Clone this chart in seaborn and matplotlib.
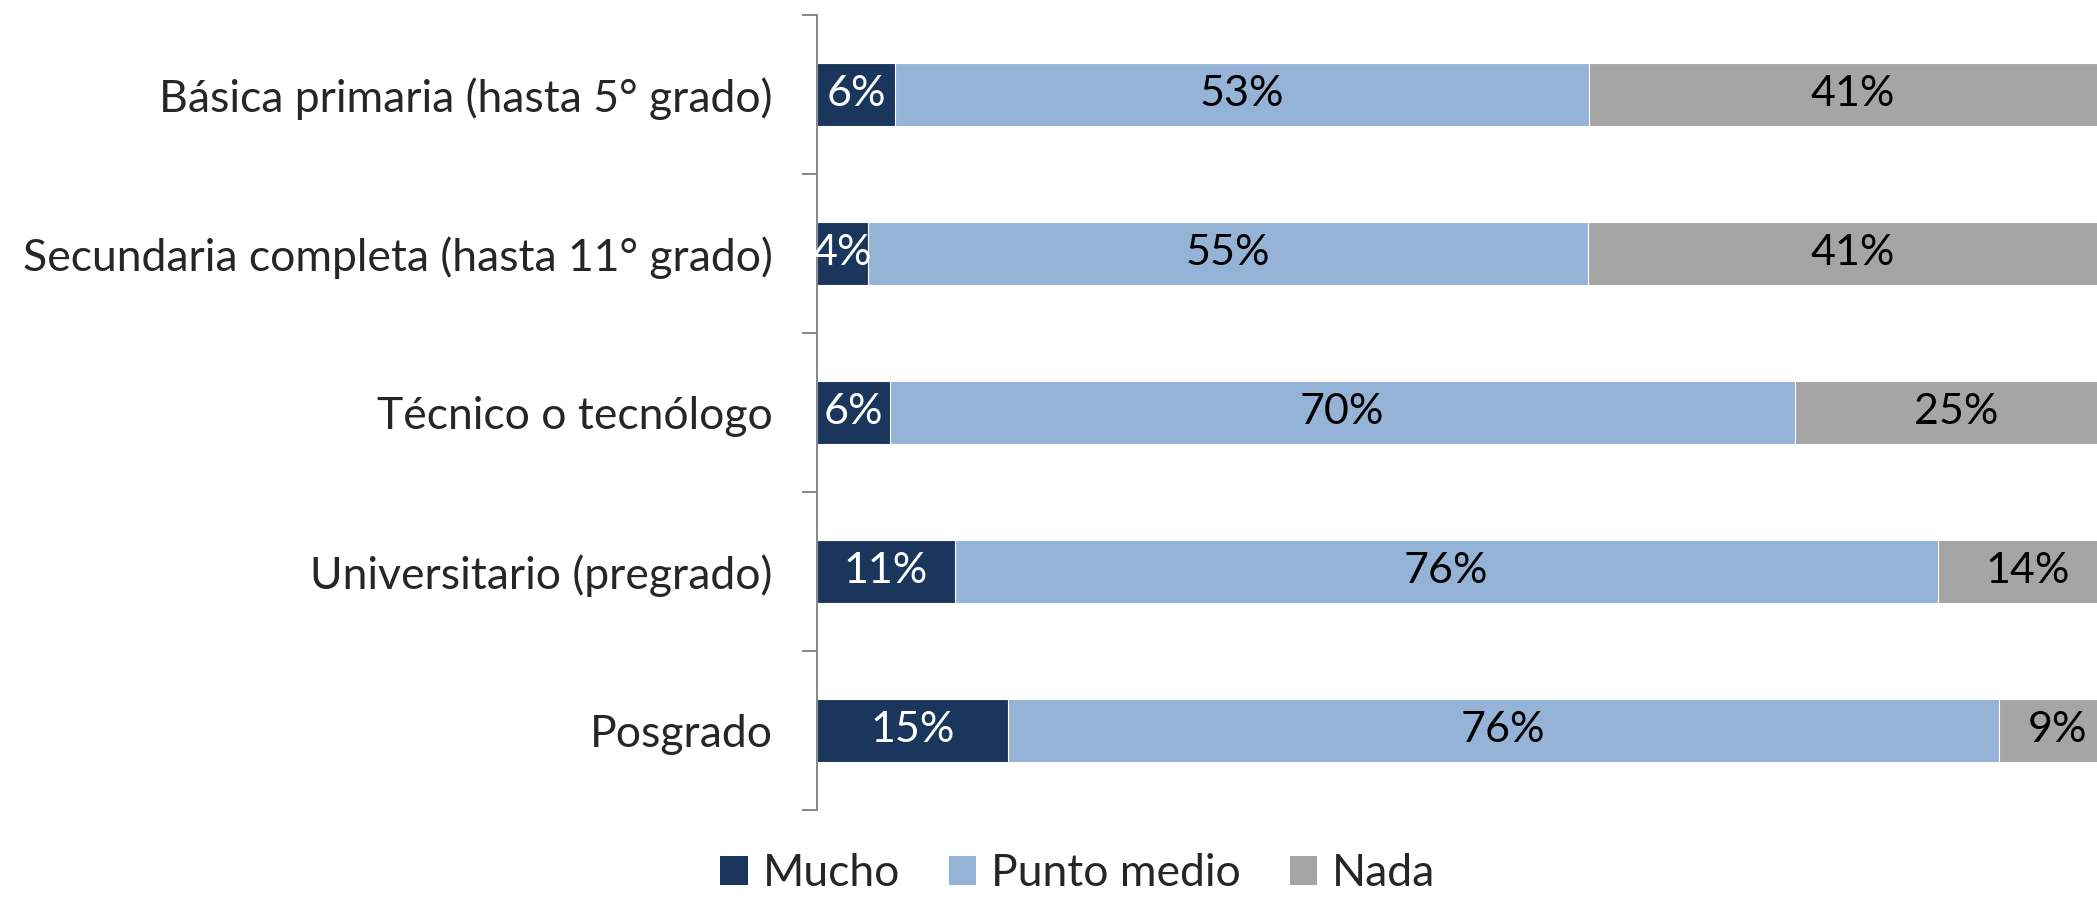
import matplotlib
matplotlib.use("Agg")
import matplotlib.pyplot as plt
from matplotlib.patches import Patch
import seaborn as sns
import numpy as np
import pandas as pd

categories = [
    "Básica primaria (hasta 5° grado)",
    "Secundaria completa (hasta 11° grado)",
    "Técnico o tecnólogo",
    "Universitario (pregrado)",
    "Posgrado",
]
mucho = [6.0, 3.9, 5.6, 10.6, 14.7]
punto_medio = [53.4, 55.4, 69.6, 75.6, 76.2]
nada = [40.6, 40.7, 24.8, 13.8, 9.1]
series_names = ["Mucho", "Punto medio", "Nada"]
colors = ["#1A365D", "#95B3D7", "#A5A5A5"]
label_colors = ["white", "black", "black"]

sns.set_theme(style="white")
plt.rcParams["font.family"] = ["Lato", "DejaVu Sans"]

df = pd.DataFrame({"cat": categories, "Mucho": mucho,
                   "Punto medio": punto_medio, "Nada": nada})
df["c1"] = df["Mucho"]
df["c2"] = df["Mucho"] + df["Punto medio"]
df["c3"] = df["c2"] + df["Nada"]

fig = plt.figure(figsize=(20.97, 8.97), dpi=100)
ax = fig.add_axes([0.3896, 0.097, 0.6199, 0.8863])

for col, color in zip(["c3", "c2", "c1"], colors[::-1]):
    sns.barplot(data=df, y="cat", x=col, orient="h", color=color,
                width=0.4, ax=ax, edgecolor="white", linewidth=0.8,
                saturation=1, errorbar=None)

ax.set_xlim(0, 100)
ax.set_ylim(4.5, -0.5)
ax.set_xlabel("")
ax.set_ylabel("")
ax.set_xticks([])

# value labels
lefts = np.zeros(len(categories))
for vals, lc in zip([mucho, punto_medio, nada], label_colors):
    vals = np.array(vals)
    centers = lefts + vals / 2
    for i, (c, v) in enumerate(zip(centers, vals)):
        ax.text(c, i, f"{int(round(v))}%", ha="center", va="center",
                color=lc, fontsize=31)
    lefts = lefts + vals

for s in ["top", "right", "bottom"]:
    ax.spines[s].set_visible(False)
ax.spines["left"].set_color("#868686")
ax.spines["left"].set_linewidth(1.4)

ax.set_yticks(range(len(categories)))
ax.set_yticklabels(categories, fontsize=32)
ax.tick_params(axis="y", which="major", length=0, pad=32)
ax.set_yticks(np.arange(-0.5, len(categories), 1.0), minor=True)
ax.tick_params(axis="y", which="minor", length=11, width=1.4,
               color="#868686", left=True)

handles = [Patch(facecolor=c, edgecolor="none") for c in colors]
fig.legend(handles, series_names, loc="center", bbox_to_anchor=(0.514, 0.026),
           ncol=3, frameon=False, fontsize=32, handlelength=0.61,
           handleheight=0.61, handletextpad=0.34, columnspacing=1.1,
           borderpad=0, borderaxespad=0)

fig.savefig("out.png", dpi=100)
